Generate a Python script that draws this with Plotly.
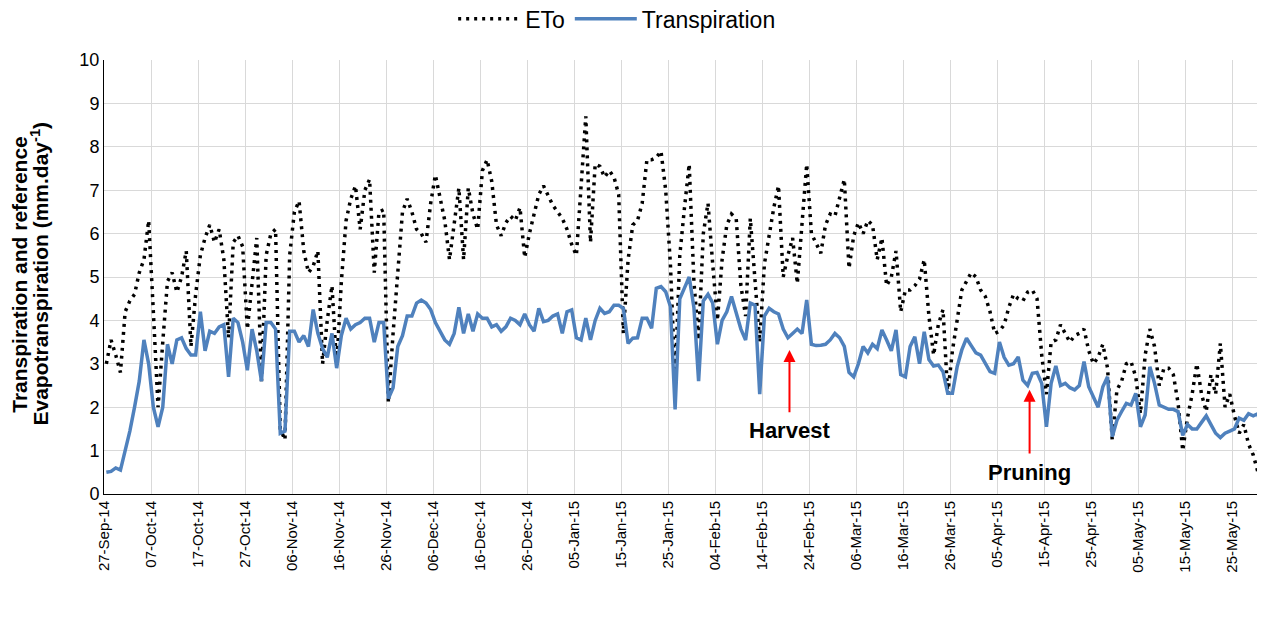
import pandas as pd
import plotly.graph_objects as go

# daily series, 27-Sep-14 .. 31-May-15
start_date = "2014-09-27 12:00"
n_days = 247

eto = [
    3.0, 3.55, 3.2, 2.8, 4.2, 4.45, 4.6, 5.1, 5.4, 6.3,
    4.2, 2.0, 3.5, 4.9, 5.1, 4.65, 5.0, 5.6, 3.4, 4.6,
    5.5, 5.9, 6.2, 5.8, 6.1, 5.4, 3.6, 5.8, 5.95, 5.7,
    3.8, 4.9, 5.9, 2.6, 5.5, 6.0, 6.1, 1.5, 1.25, 5.5,
    6.5, 6.75, 5.6, 5.1, 5.25, 5.6, 3.0, 4.0, 4.8, 2.95,
    4.9, 6.3, 6.8, 7.1, 6.1, 7.0, 7.25, 5.1, 6.5, 6.55,
    2.1, 3.7, 5.2, 6.5, 6.8, 6.5, 6.1, 6.0, 5.8, 6.7,
    7.35, 6.85, 6.3, 5.4, 6.3, 7.05, 5.4, 7.05, 6.45, 6.1,
    7.45, 7.7, 7.2, 6.2, 5.95, 6.25, 6.4, 6.3, 6.6, 5.45,
    6.0, 6.45, 6.9, 7.1, 6.85, 6.65, 6.5, 6.35, 6.1, 5.75,
    5.5, 7.2, 8.7, 5.8, 7.6, 7.55, 7.3, 7.45, 7.3, 6.9,
    3.7, 5.4, 6.2, 6.3, 6.7, 7.7, 7.7, 7.75, 7.9, 7.0,
    5.3, 2.6, 5.5, 6.6, 7.6, 4.9, 3.55, 6.0, 6.7, 5.3,
    4.0, 5.4, 6.2, 6.45, 6.35, 4.8, 4.1, 6.35, 4.8, 3.5,
    5.3, 6.0, 6.6, 7.1, 5.0, 5.5, 5.9, 4.85, 6.2, 7.6,
    6.0, 5.75, 5.55, 6.2, 6.45, 6.4, 6.85, 7.25, 5.2, 5.95,
    6.25, 6.0, 6.3, 6.2, 5.4, 5.9, 4.8, 5.0, 5.6, 4.2,
    4.7, 4.7, 4.8, 4.95, 5.4, 4.1, 3.2, 3.9, 4.25, 2.3,
    3.3, 4.0, 4.7, 4.9, 5.1, 5.0, 4.7, 4.55, 4.2, 3.7,
    3.75, 3.9, 4.3, 4.6, 4.5, 4.45, 4.65, 4.7, 4.5, 3.2,
    2.3, 3.5, 3.55, 3.9, 3.7, 3.5, 3.65, 3.7, 3.8, 3.3,
    3.0, 3.15, 3.45, 2.9, 1.25, 2.4, 2.6, 3.0, 3.05, 2.7,
    1.85, 3.2, 3.8, 3.4, 2.5, 2.9, 2.9, 2.75, 2.1, 1.0,
    1.75, 2.3, 3.0, 2.3, 1.9, 2.75, 2.3, 3.47, 2.0, 2.3,
    1.8, 1.4, 1.6, 1.15, 0.9, 0.5, 0.85,
]

transpiration = [
    0.5, 0.52, 0.6, 0.55, 1.0, 1.45, 2.0, 2.6, 3.55, 3.0,
    2.0, 1.55, 2.0, 3.45, 3.0, 3.55, 3.6, 3.35, 3.2, 3.2,
    4.2, 3.3, 3.75, 3.7, 3.85, 3.9, 2.7, 4.05, 3.95, 3.5,
    2.85, 3.8, 3.3, 2.6, 3.95, 3.95, 3.8, 1.4, 1.45, 3.75,
    3.75, 3.5, 3.65, 3.4, 4.25, 3.7, 3.35, 3.15, 3.7, 2.9,
    3.65, 4.05, 3.8, 3.9, 3.95, 4.05, 4.05, 3.5, 3.95, 3.95,
    2.2, 2.45, 3.4, 3.65, 4.1, 4.1, 4.4, 4.47, 4.4, 4.25,
    3.95, 3.75, 3.55, 3.45, 3.7, 4.3, 3.7, 4.15, 3.75, 4.15,
    4.05, 4.05, 3.85, 3.9, 3.75, 3.85, 4.05, 4.0, 3.9, 4.15,
    3.9, 3.75, 4.28, 3.97, 4.0, 4.1, 4.15, 3.7, 4.2, 4.24,
    3.6, 3.55, 4.05, 3.55, 4.0, 4.28, 4.16, 4.2, 4.35, 4.35,
    4.28, 3.47, 3.59, 3.6, 4.05, 4.05, 3.82, 4.74, 4.78, 4.66,
    4.32, 1.95, 4.5, 4.75, 5.0, 4.3, 2.6, 4.45, 4.6, 4.4,
    3.45, 4.0, 4.2, 4.55, 4.2, 3.8, 3.55, 4.4, 4.35, 2.3,
    4.1, 4.28, 4.2, 4.15, 3.8, 3.6, 3.7, 3.8, 3.7, 4.47,
    3.45, 3.42, 3.43, 3.45, 3.55, 3.7, 3.6, 3.4, 2.8, 2.7,
    3.0, 3.4, 3.25, 3.45, 3.35, 3.78, 3.55, 3.3, 3.78, 2.75,
    2.7, 3.4, 3.62, 3.0, 3.74, 3.1, 2.95, 2.97, 2.82, 2.32,
    2.32, 2.93, 3.32, 3.59, 3.42, 3.25, 3.2, 3.0, 2.82, 2.78,
    3.5, 3.15, 2.97, 3.0, 3.16, 2.62, 2.5, 2.78, 2.8, 2.55,
    1.55, 2.55, 2.95, 2.5, 2.55, 2.45, 2.4, 2.5, 3.05, 2.47,
    2.24, 2.0, 2.47, 2.7, 1.32, 1.7, 1.9, 2.09, 2.05, 2.32,
    1.55, 1.82, 2.93, 2.55, 2.05, 2.0, 1.95, 1.95, 1.9, 1.35,
    1.6, 1.5, 1.5, 1.65, 1.8, 1.6, 1.4, 1.3, 1.4, 1.45,
    1.5, 1.75, 1.7, 1.85, 1.8, 1.85, 1.3,
]

dates = pd.date_range(start_date, periods=n_days, freq="D")

font_name = "Liberation Sans, Arial, sans-serif"

fig = go.Figure()
fig.add_trace(go.Scatter(x=dates, y=eto, mode="lines", name="ETo",
                         line=dict(color="black", width=3.5, dash="3px,5px")))
fig.add_trace(go.Scatter(x=dates, y=transpiration, mode="lines", name="Transpiration",
                         line=dict(color="#4F81BD", width=3.5)))

# harvest / pruning markers
fig.add_annotation(x="2015-02-19 20:00", y=3.32, ax="2015-02-19 20:00", ay=1.85,
                   xref="x", yref="y", axref="x", ayref="y", text="",
                   showarrow=True, arrowhead=2, arrowsize=1.2, arrowwidth=2, arrowcolor="red")
fig.add_annotation(x="2015-02-19 20:00", y=1.47, text="<b>Harvest</b>", showarrow=False,
                   font=dict(size=22, color="black"))
fig.add_annotation(x="2015-04-11 22:00", y=2.4, ax="2015-04-11 22:00", ay=0.9,
                   xref="x", yref="y", axref="x", ayref="y", text="",
                   showarrow=True, arrowhead=2, arrowsize=1.2, arrowwidth=2, arrowcolor="red")
fig.add_annotation(x="2015-04-11 22:00", y=0.5, text="<b>Pruning</b>", showarrow=False,
                   font=dict(size=22, color="black"))

# y axis title, two lines
fig.add_annotation(x=-0.0725, y=0.507, xref="paper", yref="paper", textangle=-90,
                   xanchor="center", yanchor="middle",
                   text="<b>Transpiration and reference</b>", showarrow=False,
                   font=dict(size=21, color="black"))
fig.add_annotation(x=-0.0555, y=0.507, xref="paper", yref="paper", textangle=-90,
                   xanchor="center", yanchor="middle",
                   text="<b>Evapotranspiration (mm.day<sup>-1</sup>)</b>", showarrow=False,
                   font=dict(size=21, color="black"))

# page body adds an 8px offset, so the figure is sized to fill the rest
fig.update_layout(
    width=1257, height=594,
    margin=dict(l=96, r=0, t=52, b=108, autoexpand=False),
    paper_bgcolor="white", plot_bgcolor="white",
    font=dict(family=font_name, size=16, color="black"),
    legend=dict(orientation="h", x=0.442, xanchor="center", y=1.095, yanchor="middle",
                itemwidth=62, font=dict(size=23)),
    xaxis=dict(
        range=["2014-09-27", "2015-06-01"], automargin=False,
        tick0="2014-09-27", dtick=10 * 86400000, tickformat="%d-%b-%y",
        tickangle=-90, tickfont=dict(size=15),
        showgrid=True, gridcolor="#d9d9d9", gridwidth=1,
        showline=True, linecolor="black", linewidth=1,
    ),
    yaxis=dict(
        range=[0, 10], dtick=1, tickfont=dict(size=18), automargin=False,
        showgrid=True, gridcolor="#d9d9d9", gridwidth=1, zeroline=False,
        showline=True, linecolor="black", linewidth=1,
    ),
)

fig.write_html("out.html")
